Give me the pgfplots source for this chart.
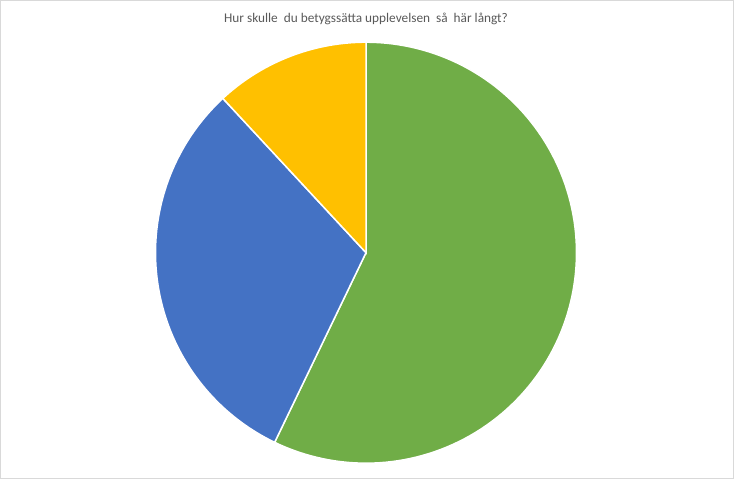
\documentclass[border=0pt]{standalone}
\usepackage{pgfplots}
\usepackage{pgfplotstable}
\pgfplotsset{compat=1.18}
\usepackage{fontspec}
\setmainfont{Carlito}
\definecolor{pgreen}{HTML}{70AD47}
\definecolor{pblue}{HTML}{4472C4}
\definecolor{pyellow}{HTML}{FFC000}
\definecolor{ptitle}{HTML}{595959}
\definecolor{pborder}{HTML}{D9D9D9}
\pgfplotstableread{
label value
Gron 24
Bla 13
Gul 5
}\piedata
\begin{document}%
\begin{tikzpicture}
\pgfplotstablegetelem{0}{value}\of\piedata \let\va\pgfplotsretval
\pgfplotstablegetelem{1}{value}\of\piedata \let\vb\pgfplotsretval
\pgfplotstablegetelem{2}{value}\of\piedata \let\vc\pgfplotsretval
\pgfmathsetmacro{\tot}{\va+\vb+\vc}
\pgfmathsetmacro{\aA}{90}
\pgfmathsetmacro{\aB}{90-360*\va/\tot}
\pgfmathsetmacro{\aC}{\aB-360*\vb/\tot}
\pgfmathsetmacro{\aD}{\aC-360*\vc/\tot}
\begin{axis}[
  scale only axis, width=734pt, height=479pt,
  xmin=0, xmax=734, ymin=0, ymax=479,
  hide axis, clip=false,
]
\draw[pborder, line width=1pt] (axis cs:0.5,0.5) rectangle (axis cs:733.5,478.5);
\addplot[fill=pgreen, draw=white, line width=1.5pt, domain=\aB:\aA, samples=120, variable=\t]
  ({366+210.5*cos(t)}, {226.3+210.5*sin(t)}) -- (axis cs:366,226.3) -- cycle;
\addplot[fill=pblue, draw=white, line width=1.5pt, domain=\aC:\aB, samples=80, variable=\t]
  ({366+210.5*cos(t)}, {226.3+210.5*sin(t)}) -- (axis cs:366,226.3) -- cycle;
\addplot[fill=pyellow, draw=white, line width=1.5pt, domain=\aD:\aC, samples=40, variable=\t]
  ({366+210.5*cos(t)}, {226.3+210.5*sin(t)}) -- (axis cs:366,226.3) -- cycle;
\node[text=ptitle, font=\fontsize{13.3}{15}\selectfont, anchor=center] at (axis cs:366,460)
  {Hur skulle\ \ du betygssätta upplevelsen\ \ så\ \ här långt?};
\end{axis}
\end{tikzpicture}%
\end{document}
